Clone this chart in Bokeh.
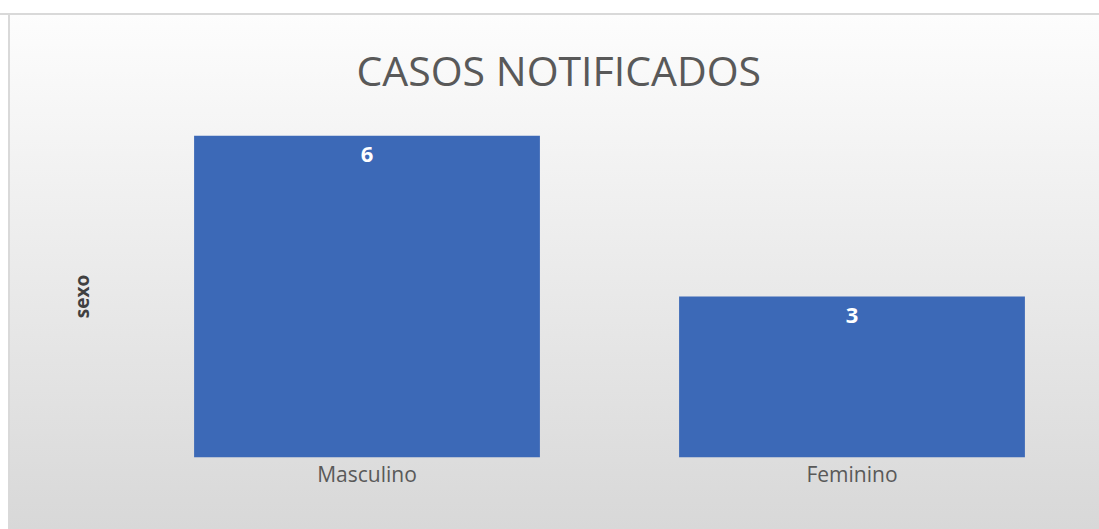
from bokeh.plotting import figure
from bokeh.models import ColumnDataSource, LabelSet, Range1d, FactorRange
from bokeh.core.properties import value
from bokeh.embed import file_html
from bokeh.resources import INLINE

# data
categorias = ["Masculino", "Feminino"]
casos = [6, 3]
rotulos = [str(v) for v in casos]

source = ColumnDataSource(data=dict(cat=categorias, casos=casos, rot=rotulos))

p = figure(
    x_range=FactorRange(*categorias),
    y_range=Range1d(0, 6),
    width=1099, height=529,
    output_backend="svg", toolbar_location=None,
    title="CASOS NOTIFICADOS",
    min_border_left=124, min_border_right=5,
    min_border_top=135, min_border_bottom=72,
)
p.border_fill_color = None
p.background_fill_color = None
p.outline_line_color = None
p.styles = {
    "background": (
        "linear-gradient(to bottom, #ffffff 0px, #ffffff 13px, #d9d9d9 13px, #d9d9d9 15px, transparent 15px),"
        "linear-gradient(to right, #ffffff 0px, #ffffff 8px, #d9d9d9 8px, #d9d9d9 10px, transparent 10px),"
        "linear-gradient(to bottom, #fefefe 0%, #d8d8d8 100%)"
    )
}

p.vbar(x="cat", top="casos", width=0.713, source=source,
       fill_color="#3c69b7", line_color=None)

labels = LabelSet(x="cat", y="casos", text="rot", source=source,
                  text_align="center", text_baseline="top", y_offset=-11,
                  text_color="white", text_font=value("Open Sans"),
                  text_font_style="bold", text_font_size="22px")
p.add_layout(labels)

p.title.align = "left"
p.title.text_font = "Open Sans"
p.title.text_font_size = "41px"
p.title.text_font_style = "normal"
p.title.text_color = "#595959"
p.title.offset = 232
p.title.standoff = 76

p.xgrid.visible = False
p.ygrid.visible = False

p.xaxis.axis_line_color = None
p.xaxis.major_tick_line_color = None
p.xaxis.minor_tick_line_color = None
p.xaxis.major_label_text_font = "Open Sans"
p.xaxis.major_label_text_font_size = "21px"
p.xaxis.major_label_text_color = "#595959"
p.xaxis.major_label_standoff = -4

p.yaxis.axis_line_color = None
p.yaxis.major_tick_line_color = None
p.yaxis.minor_tick_line_color = None
p.yaxis.major_label_text_font_size = "0px"
p.yaxis.major_label_text_color = None
p.yaxis.axis_label = "sexo"
p.yaxis.axis_label_text_font = "Open Sans"
p.yaxis.axis_label_text_font_style = "bold"
p.yaxis.axis_label_text_font_size = "19px"
p.yaxis.axis_label_text_color = "#404040"
p.yaxis.axis_label_standoff = 24

open("out.html", "w").write(file_html(p, INLINE))
